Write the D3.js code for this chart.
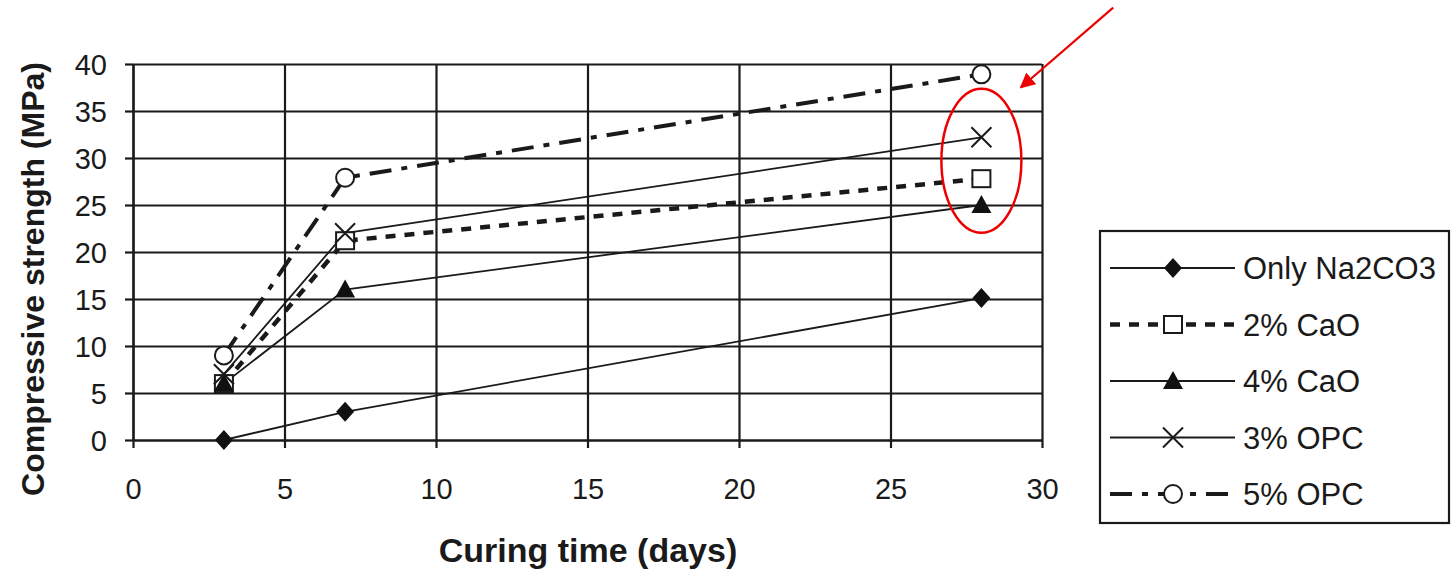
<!DOCTYPE html>
<html>
<head>
<meta charset="utf-8">
<script src="https://cdn.jsdelivr.net/npm/d3@7"></script>
<style>
	body { margin: 0; background: #fff; }
	text { font-family: "Liberation Sans", Arial, sans-serif; fill: #1a1a1a; }
</style>
</head>
<body>
<svg id="chart" width="1452" height="574"></svg>
<script>

// curing days and strength values (MPa)
var days = [3, 7, 28];
var onlyNa2CO3 = [0, 3, 15.1];
var cao2 = [6, 21.2, 27.8];
var cao4 = [6, 16, 25];
var opc3 = [7, 22, 32.2];
var opc5 = [9, 27.9, 38.9];

var seriesNames = ["Only Na2CO3", "2% CaO", "4% CaO", "3% OPC", "5% OPC"];
var xTicks = [0, 5, 10, 15, 20, 25, 30];
var yTicks = [0, 5, 10, 15, 20, 25, 30, 35, 40];

// annotation in data units (ellipse round the 28 day points, arrow pointing at it)
var ringCenter = [28, 29.7];
var arrowFrom = [32.35, 46];
var arrowTo = [29.3, 37.5];

var series = [
	{name: seriesNames[0], values: onlyNa2CO3, dash: null, width: 1.8, symbol: "diamond"},
	{name: seriesNames[1], values: cao2, dash: "10,9", width: 4.5, symbol: "square"},
	{name: seriesNames[2], values: cao4, dash: null, width: 1.8, symbol: "triangle"},
	{name: seriesNames[3], values: opc3, dash: null, width: 1.8, symbol: "cross"},
	{name: seriesNames[4], values: opc5, dash: "22,10,6,10", width: 4, symbol: "circle"}
];

var svg = d3.select("#chart");
var margin = {top: 64, left: 133},
	width = 1042 - 133,
	height = 440 - 64;

svg.append("rect").attr("width", 1452).attr("height", 574).attr("fill", "#fff");

var g = svg.append("g").attr("transform", "translate(" + margin.left + "," + margin.top + ")");

var x = d3.scaleLinear().domain([0, 30]).range([0, width]);
var y = d3.scaleLinear().domain([0, 40]).range([height, 0]);

//---------------------------------  grid + axes  ---------------------------------------

g.append("g")
	.attr("class", "grid")
	.call(d3.axisLeft(y).tickValues(yTicks).tickSize(-width).tickFormat(""))
	.call(function(s){ s.select(".domain").remove(); });

g.append("g")
	.attr("class", "grid")
	.attr("transform", "translate(0," + height + ")")
	.call(d3.axisBottom(x).tickValues(xTicks).tickSize(-height).tickFormat(""))
	.call(function(s){ s.select(".domain").remove(); });

g.selectAll(".grid line").attr("stroke", "#1a1a1a").attr("stroke-width", 2.2);

var yAxis = g.append("g")
	.call(d3.axisLeft(y).tickValues(yTicks).tickSize(8).tickSizeOuter(0).tickPadding(18));

var xAxis = g.append("g")
	.attr("transform", "translate(0," + height + ")")
	.call(d3.axisBottom(x).tickValues(xTicks).tickSize(8).tickSizeOuter(0).tickPadding(30));

[yAxis, xAxis].forEach(function(a){
	a.select(".domain").attr("stroke", "#1a1a1a").attr("stroke-width", 2.2);
	a.selectAll(".tick line").attr("stroke", "#1a1a1a").attr("stroke-width", 2.2);
	a.selectAll(".tick text").attr("font-size", 29).attr("font-family", "Liberation Sans, Arial, sans-serif").attr("fill", "#1a1a1a");
});
yAxis.selectAll(".tick text").attr("dy", "0.36em");

svg.append("text")
	.attr("x", 588).attr("y", 562)
	.attr("text-anchor", "middle")
	.attr("font-size", 34).attr("font-weight", "bold")
	.text("Curing time (days)");

svg.append("text")
	.attr("transform", "translate(44,279) rotate(-90)")
	.attr("text-anchor", "middle")
	.attr("font-size", 32).attr("font-weight", "bold")
	.text("Compressive strength (MPa)");

//---------------------------------  lines + markers  ---------------------------------------

var line = d3.line()
	.x(function(d, i) { return x(days[i]); })
	.y(function(d) { return y(d); });

function drawMarker(sel, kind){
	if (kind == "circle") {
		sel.append("circle").attr("r", 9).attr("fill", "#fff").attr("stroke", "#1a1a1a").attr("stroke-width", 2);
	} else if (kind == "square") {
		sel.append("rect").attr("x", -9).attr("y", -8.5).attr("width", 18).attr("height", 17)
			.attr("fill", "#fff").attr("stroke", "#1a1a1a").attr("stroke-width", 2);
	} else if (kind == "diamond") {
		sel.append("path").attr("d", "M0,-10L9,0L0,10L-9,0Z").attr("fill", "#111");
	} else if (kind == "triangle") {
		sel.append("path").attr("d", "M0,-10L10,8L-10,8Z").attr("fill", "#111");
	} else if (kind == "cross") {
		sel.append("path").attr("d", "M-10,-10L10,10M-10,10L10,-10")
			.attr("fill", "none").attr("stroke", "#1a1a1a").attr("stroke-width", 2);
	}
}

for (var s of series) {
	g.append("path")
		.datum(s.values)
		.attr("fill", "none")
		.attr("stroke", "#1a1a1a")
		.attr("stroke-width", s.width)
		.attr("stroke-dasharray", s.dash)
		.attr("d", line);
}

for (var s of series) {
	s.values.forEach(function(v, i){
		var m = g.append("g").attr("transform", "translate(" + x(days[i]) + "," + y(v) + ")");
		drawMarker(m, s.symbol);
	});
}

//---------------------------------  legend  ---------------------------------------

var legend = svg.append("g").attr("transform", "translate(1100,231)");
legend.append("rect")
	.attr("width", 349).attr("height", 292)
	.attr("fill", "#fff").attr("stroke", "#1a1a1a").attr("stroke-width", 2.2);

series.forEach(function(s, i){
	var row = legend.append("g").attr("transform", "translate(0," + (37 + i * 56.5) + ")");
	row.append("line")
		.attr("x1", 10).attr("x2", 135)
		.attr("stroke", "#1a1a1a")
		.attr("stroke-width", s.dash ? s.width : 2)
		.attr("stroke-dasharray", s.dash);
	var m = row.append("g").attr("transform", "translate(73,0)");
	drawMarker(m, s.symbol);
	row.append("text")
		.attr("x", 143).attr("dy", "0.36em")
		.attr("font-size", 31)
		.text(s.name);
});

//---------------------------------  red annotation  ---------------------------------------

svg.append("defs").append("marker")
	.attr("id", "head")
	.attr("viewBox", "0 0 10 10")
	.attr("refX", 9).attr("refY", 5)
	.attr("markerWidth", 7).attr("markerHeight", 7)
	.attr("orient", "auto")
	.append("path").attr("d", "M0,0L10,5L0,10Z").attr("fill", "#e00");

g.append("ellipse")
	.attr("cx", x(ringCenter[0])).attr("cy", y(ringCenter[1]))
	.attr("rx", 40).attr("ry", 72)
	.attr("fill", "none").attr("stroke", "#e00").attr("stroke-width", 2.5);

g.append("line")
	.attr("x1", x(arrowFrom[0])).attr("y1", y(arrowFrom[1]))
	.attr("x2", x(arrowTo[0])).attr("y2", y(arrowTo[1]))
	.attr("stroke", "#e00").attr("stroke-width", 2.2)
	.attr("marker-end", "url(#head)");

</script>
</body>
</html>
